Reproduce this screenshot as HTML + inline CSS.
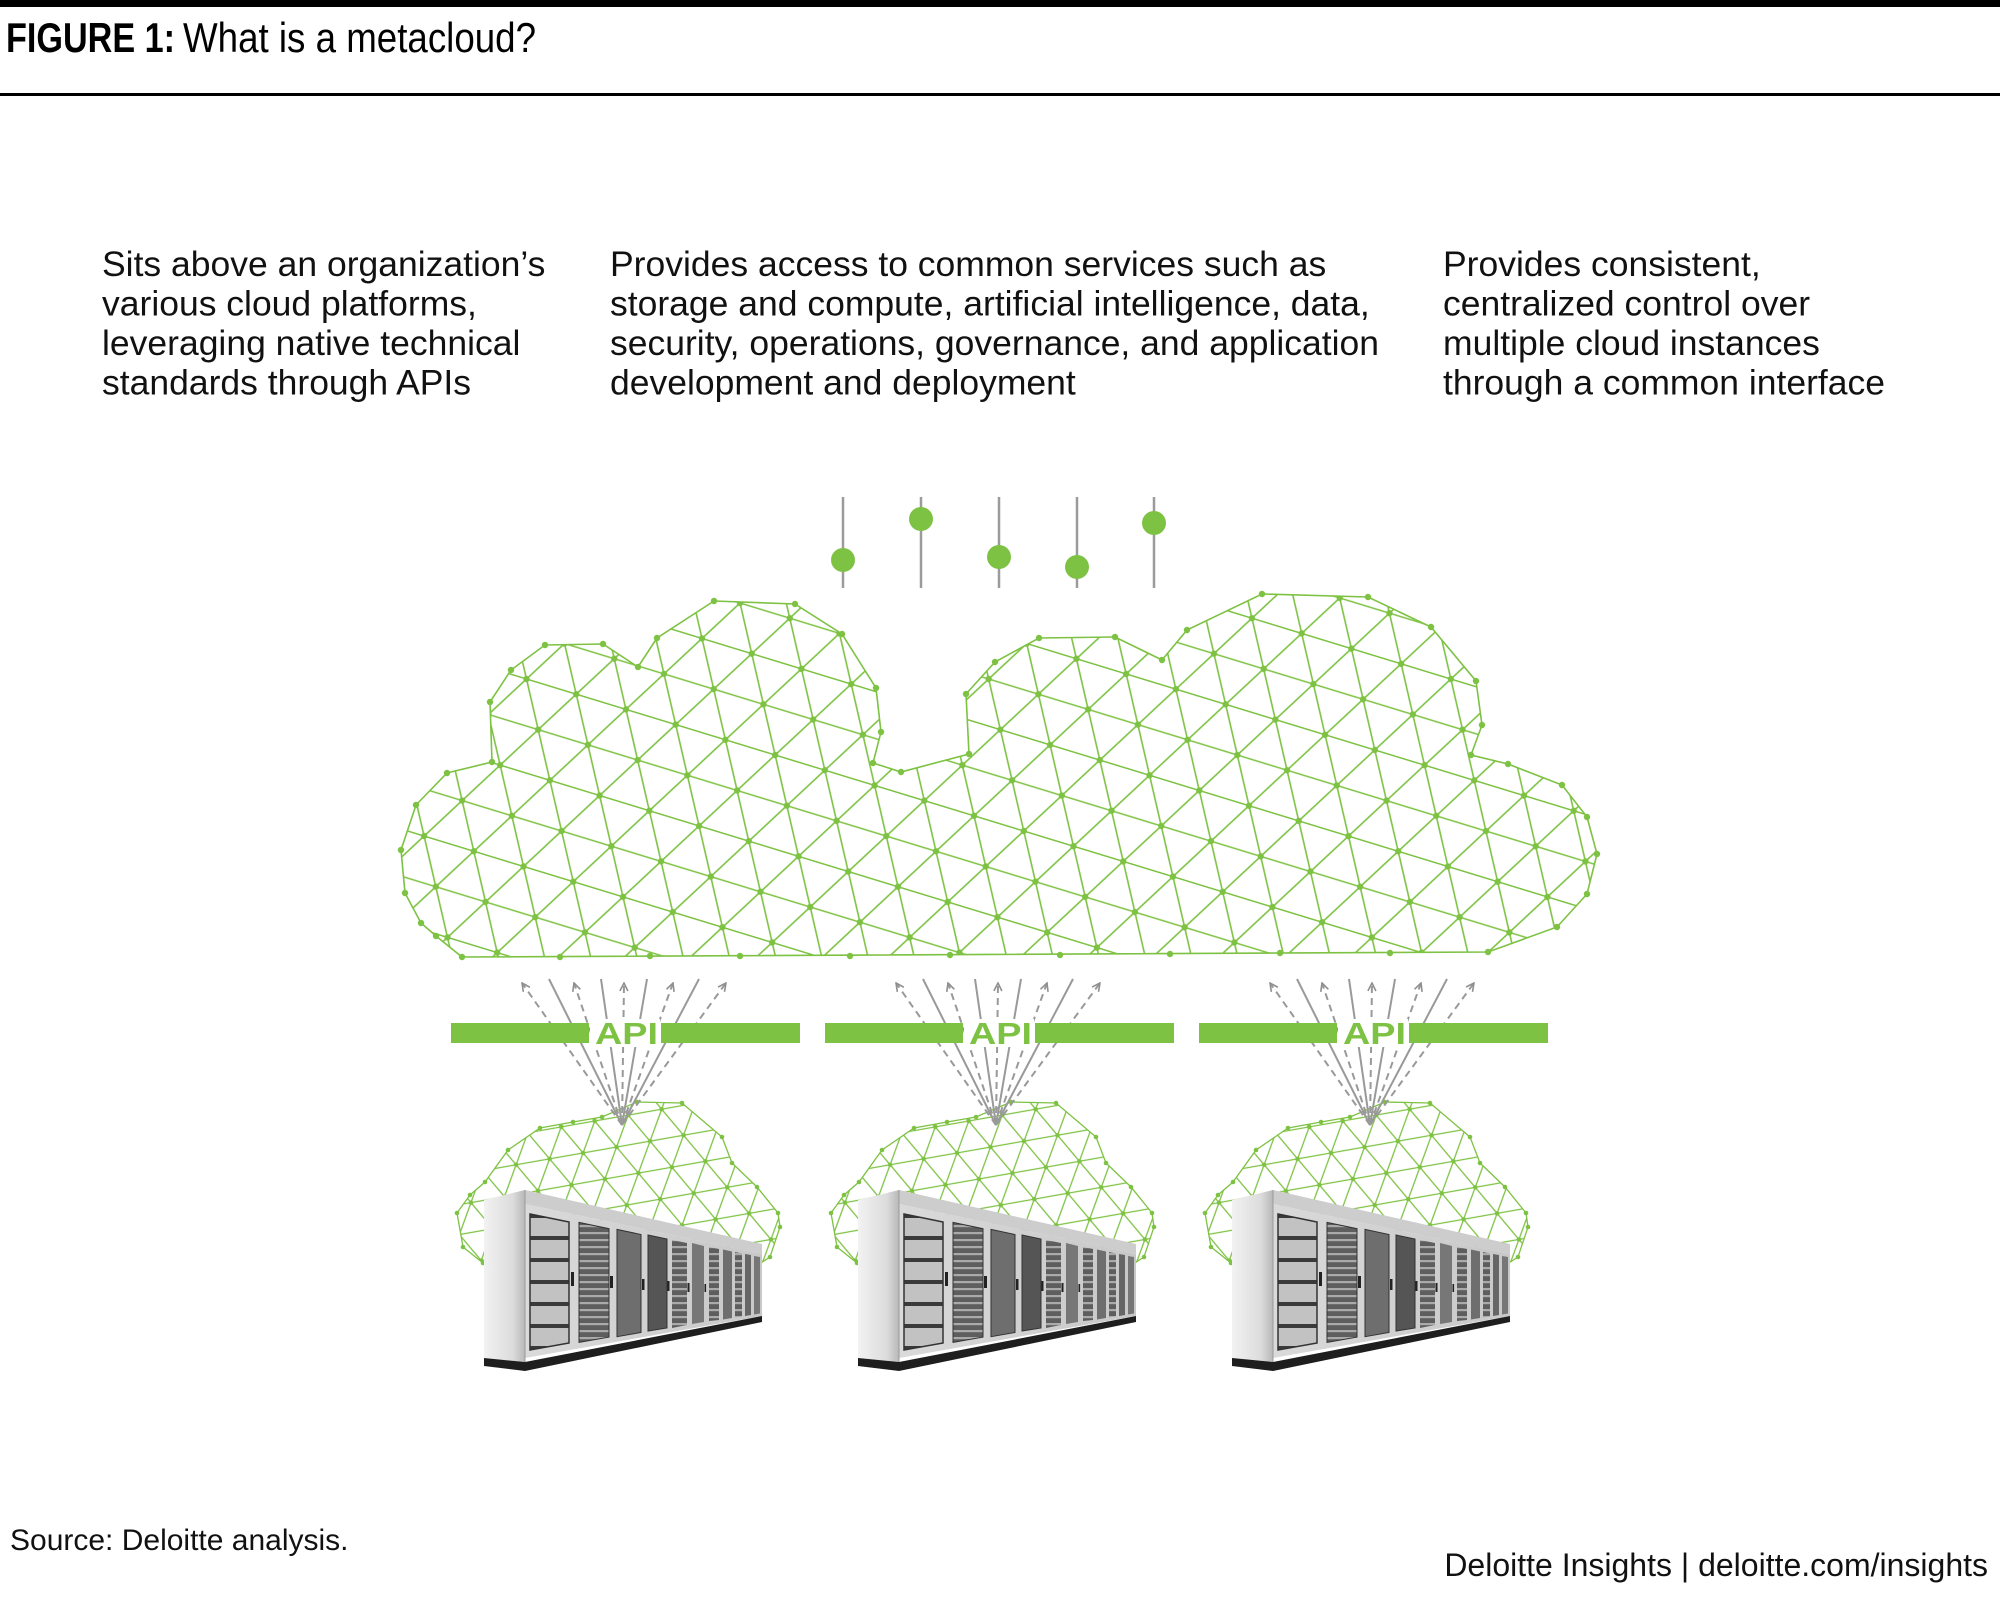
<!DOCTYPE html>
<html>
<head>
<meta charset="utf-8">
<style>
html,body{margin:0;padding:0;background:#fff;}
svg{display:block;}
</style>
</head>
<body>
<svg width="2000" height="1616" viewBox="0 0 2000 1616" xmlns="http://www.w3.org/2000/svg" xmlns:xlink="http://www.w3.org/1999/xlink" font-family="'Liberation Sans', Arial, sans-serif">
<defs>
  <pattern id="mB" width="52" height="90.07" patternUnits="userSpaceOnUse" patternTransform="rotate(17)">
    <path d="M0 0H52 M0 45.03H52 M0 90.07H52 M0 0L26 45.03L52 0 M0 90.07L26 45.03L52 90.07" stroke="#7dc242" stroke-width="1.6" fill="none"/>
    <g fill="#7dc242">
      <circle cx="0" cy="0" r="3.2"/><circle cx="52" cy="0" r="3.2"/><circle cx="26" cy="45.03" r="3.2"/>
      <circle cx="0" cy="90.07" r="3.2"/><circle cx="52" cy="90.07" r="3.2"/>
    </g>
  </pattern>
  <pattern id="mS" width="34" height="58.89" patternUnits="userSpaceOnUse" patternTransform="rotate(-10)">
    <path d="M0 0H34 M0 29.44H34 M0 58.89H34 M0 0L17 29.44L34 0 M0 58.89L17 29.44L34 58.89" stroke="#7dc242" stroke-width="1.3" fill="none"/>
    <g fill="#7dc242">
      <circle cx="0" cy="0" r="2.3"/><circle cx="34" cy="0" r="2.3"/><circle cx="17" cy="29.44" r="2.3"/>
      <circle cx="0" cy="58.89" r="2.3"/><circle cx="34" cy="58.89" r="2.3"/>
    </g>
  </pattern>
  <pattern id="srv" width="10" height="7" patternUnits="userSpaceOnUse">
    <rect width="10" height="7" fill="#5e5e5e"/>
    <rect y="0" width="10" height="2.2" fill="#aaaaaa"/>
  </pattern>
  <pattern id="srv0" width="10" height="22" patternUnits="userSpaceOnUse" y="1214">
    <rect width="10" height="22" fill="#c2c2c2"/>
    <rect y="0" width="10" height="4" fill="#3a3a3a"/>
  </pattern>
  <linearGradient id="side" x1="0" y1="0" x2="1" y2="0">
    <stop offset="0" stop-color="#f2f2f2"/>
    <stop offset="0.7" stop-color="#dcdcdc"/>
    <stop offset="1" stop-color="#b8b8b8"/>
  </linearGradient>
  <linearGradient id="front" x1="0" y1="0" x2="1" y2="0">
    <stop offset="0" stop-color="#dadada"/>
    <stop offset="1" stop-color="#c8c8c8"/>
  </linearGradient>
  <marker id="ah" viewBox="0 0 10 10" refX="9" refY="5" markerWidth="10" markerHeight="10" orient="auto" markerUnits="userSpaceOnUse">
    <path d="M1,1 L9,5 L1,9" fill="none" stroke="#8f8f8f" stroke-width="1.6"/>
  </marker>

  <g id="u">
    <polygon points="483,1263 463,1247 457,1213 470,1195 485,1182 508,1150 540,1128 573,1122 602,1117 637,1102 682,1103 722,1137 732,1163 757,1187 778,1213 780,1227 770,1257 750,1270 500,1270" fill="url(#mS)" stroke="#7dc242" stroke-width="1.3"/>
    <g fill="#7dc242">
      <circle cx="483" cy="1263" r="2.3"/><circle cx="463" cy="1247" r="2.3"/><circle cx="457" cy="1213" r="2.3"/>
      <circle cx="470" cy="1195" r="2.3"/><circle cx="485" cy="1182" r="2.3"/><circle cx="508" cy="1150" r="2.3"/>
      <circle cx="540" cy="1128" r="2.3"/><circle cx="573" cy="1122" r="2.3"/><circle cx="602" cy="1117" r="2.3"/>
      <circle cx="637" cy="1102" r="2.3"/><circle cx="682" cy="1103" r="2.3"/><circle cx="722" cy="1137" r="2.3"/>
      <circle cx="732" cy="1163" r="2.3"/><circle cx="757" cy="1187" r="2.3"/><circle cx="778" cy="1213" r="2.3"/>
      <circle cx="780" cy="1227" r="2.3"/><circle cx="770" cy="1257" r="2.3"/>
    </g>
    <g stroke="#999" stroke-width="2" fill="none">
      <line x1="622" y1="1125" x2="549" y2="979"/>
      <line x1="622" y1="1125" x2="601" y2="979"/>
      <line x1="622" y1="1125" x2="647" y2="979"/>
      <line x1="622" y1="1125" x2="699" y2="979"/>
    </g>
    <g stroke="#999" stroke-width="2" fill="none" stroke-dasharray="7 5" marker-end="url(#ah)">
      <line x1="622" y1="1125" x2="522" y2="983"/>
      <line x1="622" y1="1125" x2="574" y2="983"/>
      <line x1="622" y1="1125" x2="624" y2="983"/>
      <line x1="622" y1="1125" x2="673" y2="983"/>
      <line x1="622" y1="1125" x2="726" y2="983"/>
    </g>
    <rect x="451" y="1023" width="138" height="20" fill="#7dc242"/>
    <rect x="661" y="1023" width="139" height="20" fill="#7dc242"/>
    <rect x="590" y="1019" width="70" height="28" fill="#fff"/>
    <text x="595" y="1044" font-size="31" font-weight="bold" fill="#7dc242" textLength="63" lengthAdjust="spacingAndGlyphs">API</text>
    <polygon points="484,1200 525,1190 525,1362 484,1358" fill="url(#side)"/>
    <polygon points="525,1190 762,1244 762,1254 525,1204" fill="#cdcdcd"/>
    <polygon points="525,1204 762,1254 762,1316 525,1358" fill="url(#front)"/>
    <line x1="525" y1="1190" x2="525" y2="1362" stroke="#9a9a9a" stroke-width="1"/>
    <polygon points="484,1358 525,1362 762,1316 762,1322 525,1371 484,1366" fill="#1e1e1e"/>
    <polygon points="530,1214 569,1222 569,1343 530,1350" fill="url(#srv0)" stroke="#333" stroke-width="1.5"/>
    <polygon points="579,1222.4 609,1228.7 609,1337.1 579,1342.4" fill="url(#srv)" stroke="#333" stroke-width="1"/>
    <polygon points="617,1229.4 641,1234.5 641,1332.5 617,1336.7" fill="#6e6e6e" stroke="#333" stroke-width="1"/>
    <polygon points="648,1235 667,1239 667,1328 648,1331" fill="#555" stroke="#333" stroke-width="1"/>
    <polygon points="672,1240 687,1243 687,1325 672,1328" fill="url(#srv)"/>
    <polygon points="692,1243 704,1246 704,1322 692,1324" fill="#777"/>
    <polygon points="709,1247 719,1249 719,1320 709,1321" fill="url(#srv)"/>
    <polygon points="723,1249.5 732,1251.5 732,1318 723,1319.5" fill="#6e6e6e"/>
    <polygon points="735,1252 742,1253.5 742,1316.5 735,1317.5" fill="url(#srv)"/>
    <polygon points="745,1254 751,1255 751,1315 745,1316" fill="#666"/>
    <polygon points="754,1256 760,1257 760,1313.5 754,1314.5" fill="#777"/>
    <g fill="#222">
      <rect x="571" y="1272" width="3" height="14"/>
      <rect x="610" y="1276" width="3" height="12"/>
      <rect x="642" y="1279" width="2.5" height="11"/>
      <rect x="667.5" y="1281" width="2" height="10"/>
      <rect x="687.5" y="1283" width="2" height="9"/>
      <rect x="704.5" y="1284" width="1.6" height="8"/>
    </g>
  </g>
</defs>

<rect x="0" y="0" width="2000" height="7" fill="#000"/>
<text x="6" y="52" font-size="42" font-weight="bold" fill="#000" textLength="169" lengthAdjust="spacingAndGlyphs">FIGURE 1:</text>
<text x="183" y="52" font-size="42" fill="#000" textLength="353" lengthAdjust="spacingAndGlyphs">What is a metacloud?</text>
<rect x="0" y="93" width="2000" height="3" fill="#000"/>

<g font-size="35.5" fill="#111">
  <text x="102" y="276">Sits above an organization’s</text>
  <text x="102" y="315.5">various cloud platforms,</text>
  <text x="102" y="355">leveraging native technical</text>
  <text x="102" y="394.5">standards through APIs</text>

  <text x="610" y="276">Provides access to common services such as</text>
  <text x="610" y="315.5">storage and compute, artificial intelligence, data,</text>
  <text x="610" y="355">security, operations, governance, and application</text>
  <text x="610" y="394.5">development and deployment</text>

  <text x="1443" y="276">Provides consistent,</text>
  <text x="1443" y="315.5">centralized control over</text>
  <text x="1443" y="355">multiple cloud instances</text>
  <text x="1443" y="394.5">through a common interface</text>
</g>

<g stroke="#9b9b9b" stroke-width="2.5">
  <line x1="843" y1="497" x2="843" y2="588"/>
  <line x1="921" y1="497" x2="921" y2="588"/>
  <line x1="999" y1="497" x2="999" y2="588"/>
  <line x1="1077" y1="497" x2="1077" y2="588"/>
  <line x1="1154" y1="497" x2="1154" y2="588"/>
</g>
<g fill="#7dc242">
  <circle cx="843" cy="560" r="12"/>
  <circle cx="921" cy="519" r="12"/>
  <circle cx="999" cy="557" r="12"/>
  <circle cx="1077" cy="567" r="12"/>
  <circle cx="1154" cy="523" r="12"/>
</g>

<polygon points="462,957 436,936 421,923 405,893 401,850 416,805 447,773 492,762 490,702 511,670 545,645 603,644 638,667 657,638 714,601 795,604 842,634 876,688 881,732 873,763 901,772 969,754 966,694 995,662 1039,638 1115,637 1162,660 1187,630 1262,594 1368,597 1431,627 1476,681 1482,725 1471,755 1508,764 1562,785 1587,817 1597,854 1587,894 1557,927 1488,952" fill="url(#mB)" stroke="#7dc242" stroke-width="1.6"/>
<g fill="#7dc242">
  <circle cx="462" cy="957" r="3.2"/><circle cx="436" cy="936" r="3.2"/><circle cx="421" cy="923" r="3.2"/>
  <circle cx="405" cy="893" r="3.2"/><circle cx="401" cy="850" r="3.2"/><circle cx="416" cy="805" r="3.2"/>
  <circle cx="447" cy="773" r="3.2"/><circle cx="492" cy="762" r="3.2"/><circle cx="490" cy="702" r="3.2"/>
  <circle cx="511" cy="670" r="3.2"/><circle cx="545" cy="645" r="3.2"/><circle cx="603" cy="644" r="3.2"/>
  <circle cx="638" cy="667" r="3.2"/><circle cx="657" cy="638" r="3.2"/><circle cx="714" cy="601" r="3.2"/>
  <circle cx="795" cy="604" r="3.2"/><circle cx="842" cy="634" r="3.2"/><circle cx="876" cy="688" r="3.2"/>
  <circle cx="881" cy="732" r="3.2"/><circle cx="873" cy="763" r="3.2"/><circle cx="901" cy="772" r="3.2"/>
  <circle cx="969" cy="754" r="3.2"/><circle cx="966" cy="694" r="3.2"/><circle cx="995" cy="662" r="3.2"/>
  <circle cx="1039" cy="638" r="3.2"/><circle cx="1115" cy="637" r="3.2"/><circle cx="1162" cy="660" r="3.2"/>
  <circle cx="1187" cy="630" r="3.2"/><circle cx="1262" cy="594" r="3.2"/><circle cx="1368" cy="597" r="3.2"/>
  <circle cx="1431" cy="627" r="3.2"/><circle cx="1476" cy="681" r="3.2"/><circle cx="1482" cy="725" r="3.2"/>
  <circle cx="1471" cy="755" r="3.2"/><circle cx="1508" cy="764" r="3.2"/><circle cx="1562" cy="785" r="3.2"/>
  <circle cx="1587" cy="817" r="3.2"/><circle cx="1597" cy="854" r="3.2"/><circle cx="1587" cy="894" r="3.2"/>
  <circle cx="1557" cy="927" r="3.2"/><circle cx="1488" cy="952" r="3.2"/>
  <circle cx="560" cy="957" r="3.2"/><circle cx="650" cy="956" r="3.2"/><circle cx="740" cy="956" r="3.2"/>
  <circle cx="850" cy="956" r="3.2"/><circle cx="950" cy="955" r="3.2"/><circle cx="1060" cy="955" r="3.2"/>
  <circle cx="1170" cy="954" r="3.2"/><circle cx="1280" cy="953" r="3.2"/><circle cx="1390" cy="953" r="3.2"/>
</g>

<use xlink:href="#u" href="#u" x="0" y="0"/>
<use xlink:href="#u" href="#u" x="374" y="0"/>
<use xlink:href="#u" href="#u" x="748" y="0"/>

<text x="10" y="1550" font-size="30" fill="#111">Source: Deloitte analysis.</text>
<text x="1988" y="1576" font-size="32" fill="#111" text-anchor="end">Deloitte Insights | deloitte.com/insights</text>
</svg>
</body>
</html>
